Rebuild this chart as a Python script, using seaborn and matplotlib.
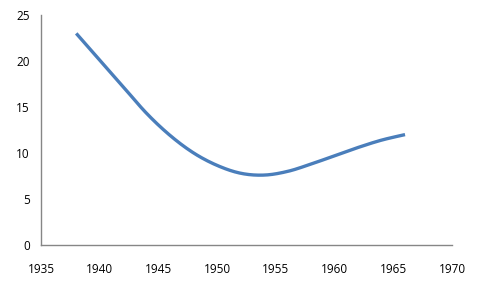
import matplotlib
matplotlib.use("Agg")
import matplotlib.pyplot as plt
import seaborn as sns
import pandas as pd
import numpy as np

years = [1938, 1940, 1942, 1944, 1946, 1948, 1950, 1952, 1954, 1956, 1958, 1960, 1962, 1964, 1966]
values = [23.0, 20.1, 17.2, 14.3, 11.9, 10.0, 8.65, 7.8, 7.6, 8.0, 8.8, 9.7, 10.6, 11.4, 12.0]
x_ticks = [1935, 1940, 1945, 1950, 1955, 1960, 1965, 1970]
y_ticks = [0, 5, 10, 15, 20, 25]


def smooth_path(xs, ys, steps=20):
    # Catmull-Rom style smoothing, like a spreadsheet's "smoothed line" rendering
    p = np.column_stack([xs, ys]).astype(float)
    p = np.vstack([p[0], p, p[-1]])
    out = []
    t = np.linspace(0, 1, steps, endpoint=False)[:, None]
    for i in range(1, len(p) - 2):
        p0, p1, p2, p3 = p[i - 1], p[i], p[i + 1], p[i + 2]
        seg = 0.5 * ((2 * p1) + (-p0 + p2) * t + (2 * p0 - 5 * p1 + 4 * p2 - p3) * t ** 2
                     + (-p0 + 3 * p1 - 3 * p2 + p3) * t ** 3)
        out.append(seg)
    out.append(p[-2][None, :])
    out = np.vstack(out)
    return out[:, 0], out[:, 1]


sx, sy = smooth_path(years, values)

sns.set_style("white")
plt.rcParams['font.family'] = ['Open Sans', 'DejaVu Sans']

df = pd.DataFrame({"year": sx, "value": sy})

fig = plt.figure(figsize=(4.82, 2.90), dpi=100)
ax = fig.add_axes([41/482, 45/290, 411/482, 230/290])
sns.lineplot(data=df, x="year", y="value", ax=ax, color="#4A7EBB", linewidth=2.4,
             sort=False, estimator=None, solid_joinstyle="round", solid_capstyle="butt")

ax.set_xlim(1935, 1970)
ax.set_ylim(0, 25)
ax.set_xticks(x_ticks)
ax.set_yticks(y_ticks)
ax.set_xlabel("")
ax.set_ylabel("")
for s in ["top", "right"]:
    ax.spines[s].set_visible(False)
for s in ["left", "bottom"]:
    ax.spines[s].set_color("#868686")
    ax.spines[s].set_linewidth(1.0)
ax.tick_params(axis="both", direction="out", length=4, width=1, color="#868686",
               labelsize=8.5, labelcolor="black", pad=4)
ax.tick_params(axis="x", pad=9)

fig.savefig("out.png", dpi=100)
